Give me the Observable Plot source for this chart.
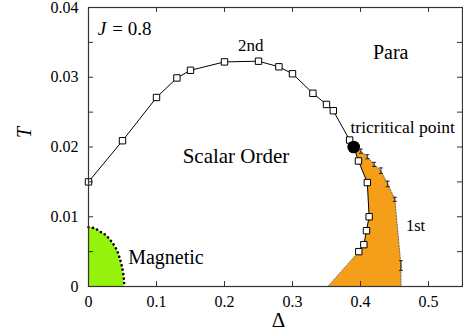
<!DOCTYPE html>
<html>
<head>
<meta charset="utf-8">
<script src="https://cdn.jsdelivr.net/npm/d3@7"></script>
<script src="https://cdn.jsdelivr.net/npm/@observablehq/plot@0.6"></script>
<style>
  html, body { margin: 0; padding: 0; background: #fff; }
  svg { display: block; }
</style>
</head>
<body>
<div id="chart"></div>
<script>
// ---- data (Δ, T) ----
const secondD = [0, 0.05, 0.1, 0.13, 0.15, 0.2, 0.25, 0.28, 0.3, 0.33, 0.35, 0.36, 0.384];
const secondT = [0.015, 0.0209, 0.0271, 0.0299, 0.0310, 0.0322, 0.0323, 0.0315, 0.0305, 0.0277, 0.0261, 0.0252, 0.0210];

const tricriticalD = [0.39];
const tricriticalT = [0.0200];

const lowerD = [0.397, 0.41, 0.4127, 0.4088, 0.4049, 0.3975];
const lowerT = [0.0180, 0.0149, 0.0100, 0.0080, 0.0060, 0.0050];

const spinodalStartD = [0.352];
const spinodalStartT = [0];

const errD = [0.4004, 0.41, 0.42, 0.43, 0.44, 0.4505, 0.4595];
const errT = [0.0194, 0.0186, 0.0175, 0.0166, 0.0147, 0.0125, 0.0030];
const errE = [0.0003, 0.0003, 0.0003, 0.0004, 0.0004, 0.0003, 0.0007];
const errEndD = [0.4595];
const errEndT = [0];

const magD = [0, 0.01, 0.018, 0.025, 0.03, 0.0377, 0.043, 0.0475, 0.0505, 0.0524, 0.0525];
const magT = [0.0085, 0.0083, 0.0078, 0.0074, 0.0069, 0.0059, 0.0049, 0.0035, 0.0022, 0.0006, 0];

const xTicks = [0, 0.1, 0.2, 0.3, 0.4, 0.5];
const xTickLabels = ["0", "0.1", "0.2", "0.3", "0.4", "0.5"];
const yTicks = [0, 0.01, 0.02, 0.03, 0.04];
const yTickLabels = ["0", "0.01", "0.02", "0.03", "0.04"];
const yMinorTicks = [0, 0.005, 0.01, 0.015, 0.02, 0.025, 0.03, 0.035, 0.04];

const annText = ["J", "= 0.8", "2nd", "Para", "Scalar Order", "tricritical point", "1st", "Magnetic"];
const annD = [0.0137, 0.0349, 0.2387, 0.4444, 0.2169, 0.3853, 0.4809, 0.0584];
const annT = [0.03686, 0.03686, 0.03461, 0.03356, 0.01864, 0.02287, 0.00878, 0.00421];

// ---- tables built from the arrays ----
const zip = (xs, ys) => xs.map((x, i) => ({x, y: ys[i]}));
const second = zip(secondD, secondT);
const tricritical = zip(tricriticalD, tricriticalT);
const lower = zip(lowerD, lowerT);
const errs = errD.map((x, i) => ({x, y: errT[i], lo: errT[i] - errE[i], hi: errT[i] + errE[i]}));
const mag = zip(magD, magT);
const fullLine = [...second, ...tricritical, ...lower];
const leftEdge = [...zip(spinodalStartD, spinodalStartT), ...lower.slice().reverse(), ...tricritical];
const rightEdge = [...errs.map(d => ({x: d.x, y: d.y})), ...zip(errEndD, errEndT)];
const orangePoly = [...leftEdge, ...rightEdge];
const dottedLeft = [zip(spinodalStartD, spinodalStartT)[0], lower[lower.length - 1]];
const dottedRight = [tricritical[0], ...rightEdge];
const ann = annText.map((t, i) => ({t, x: annD[i], y: annT[i]}));
const A = t => ann.filter(d => d.t === t);

const capSymbol = {
  draw(context, size) {
    const h = Math.sqrt(size / Math.PI);
    context.moveTo(-h, 0);
    context.lineTo(h, 0);
  }
};

const serif = "'Liberation Serif', 'Times New Roman', serif";
const frameW = 463 - 88 - 1;
const frameH = 334 - 7 - 48;

const chart = Plot.plot({
  width: 463,
  height: 334,
  marginLeft: 88,
  marginRight: 1,
  marginTop: 7,
  marginBottom: 48,
  style: {fontFamily: serif, fontSize: "16px", color: "#000", background: "#fff"},
  x: {domain: [0, 0.55]},
  y: {domain: [0, 0.04]},
  marks: [
    // first-order region
    Plot.line(orangePoly, {x: "x", y: "y", fill: "#f59e19", stroke: "none"}),
    Plot.line(dottedLeft, {x: "x", y: "y", stroke: "#666", strokeWidth: 0.8, strokeDasharray: "1.5,1.5"}),
    Plot.line(dottedRight, {x: "x", y: "y", stroke: "#555", strokeWidth: 0.8, strokeDasharray: "1.5,1.5"}),
    // magnetic region
    Plot.areaY(mag, {x: "x", y: "y", fill: "#94f20c", curve: "monotone-x"}),
    Plot.line(mag, {x: "x", y: "y", stroke: "#000", strokeWidth: 2.6, strokeDasharray: "0.1,4.4", strokeLinecap: "round", curve: "monotone-x"}),
    // transition line
    Plot.line(fullLine, {x: "x", y: "y", stroke: "#000", strokeWidth: 1}),
    Plot.dot([...second, ...lower], {x: "x", y: "y", symbol: "square", r: 3.6, fill: "#fff", stroke: "#000", strokeWidth: 1}),
    // error bars
    Plot.ruleX(errs, {x: "x", y1: "lo", y2: "hi", stroke: "#000", strokeWidth: 0.8}),
    Plot.dot(errs, {x: "x", y: "lo", symbol: capSymbol, r: 2, stroke: "#000", strokeWidth: 0.8}),
    Plot.dot(errs, {x: "x", y: "hi", symbol: capSymbol, r: 2, stroke: "#000", strokeWidth: 0.8}),
    // tricritical point
    Plot.dot(tricritical, {x: "x", y: "y", r: 6.3, fill: "#000", stroke: "none"}),
    // inward ticks
    Plot.tickX(xTicks, {x: d => d, insetTop: frameH - 5, stroke: "#333"}),
    Plot.tickX(xTicks, {x: d => d, insetBottom: frameH - 5, stroke: "#333"}),
    Plot.tickY(yMinorTicks, {y: d => d, insetRight: frameW - 5, stroke: "#333"}),
    Plot.tickY(yMinorTicks, {y: d => d, insetLeft: frameW - 5, stroke: "#333"}),
    Plot.frame({stroke: "#333", strokeWidth: 1.2}),
    // tick labels
    Plot.axisX({ticks: xTicks, tickSize: 0, tickPadding: 9, tickFormat: d => xTickLabels[xTicks.indexOf(d)], label: null, fontSize: 16, fontFamily: serif}),
    Plot.axisY({ticks: yTicks, tickSize: 0, tickPadding: 10, tickFormat: d => yTickLabels[yTicks.indexOf(d)], label: null, fontSize: 16, fontFamily: serif}),
    // axis titles
    Plot.text(["T"], {frameAnchor: "left", text: d => d, dx: -64, dy: -9, rotate: -90, fontSize: 20, fontStyle: "italic", fontFamily: serif}),
    Plot.text(["Δ"], {frameAnchor: "bottom", text: d => d, dx: 3, dy: 40, fontSize: 21, fontFamily: serif}),
    // annotations
    Plot.text(A("J"), {x: "x", y: "y", text: "t", textAnchor: "start", fontSize: 19, fontStyle: "italic", fontFamily: serif}),
    Plot.text(A("= 0.8"), {x: "x", y: "y", text: "t", textAnchor: "start", fontSize: 19, fontFamily: serif}),
    Plot.text(A("2nd"), {x: "x", y: "y", text: "t", fontSize: 17, fontFamily: serif}),
    Plot.text(A("Para"), {x: "x", y: "y", text: "t", fontSize: 20, fontFamily: serif}),
    Plot.text(A("Scalar Order"), {x: "x", y: "y", text: "t", fontSize: 21, fontFamily: serif}),
    Plot.text(A("tricritical point"), {x: "x", y: "y", text: "t", textAnchor: "start", fontSize: 17.5, fontFamily: serif}),
    Plot.text(A("1st"), {x: "x", y: "y", text: "t", fontSize: 16.5, fontFamily: serif}),
    Plot.text(A("Magnetic"), {x: "x", y: "y", text: "t", textAnchor: "start", fontSize: 20, fontFamily: serif})
  ]
});
document.getElementById("chart").appendChild(chart);
</script>
</body>
</html>
